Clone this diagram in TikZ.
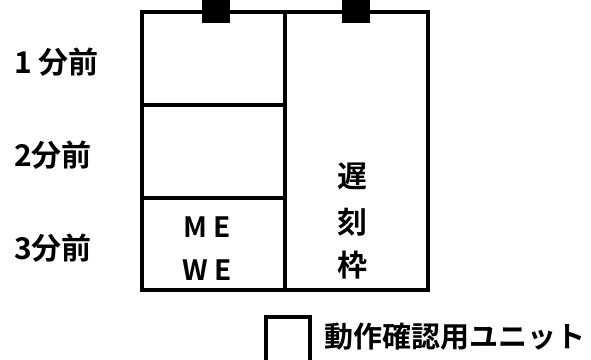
\documentclass[tikz,border=0pt]{standalone}
\usepackage{fontspec}
\setmainfont{Noto Sans CJK JP}[BoldFont={Noto Sans CJK JP Bold}]
\begin{document}
\begin{tikzpicture}[x=1pt,y=-1pt,
  frame/.style={draw=black,line width=3.2pt},
  clip/.style={fill=black},
  lbl/.style={font=\fontsize{30}{30}\selectfont\bfseries,inner sep=0pt},
  leglbl/.style={font=\fontsize{29}{29}\selectfont\bfseries,inner sep=0pt},
  inlbl/.style={font=\fontsize{28}{28}\selectfont\bfseries,inner sep=0pt}]
\useasboundingbox (0,0) rectangle (591,359);
% cells
\draw[frame] (142,12) rectangle (285,105);
\draw[frame] (142,105) rectangle (285,198);
\draw[frame] (142,198) rectangle (285,290);
\draw[frame] (285,12) rectangle (428,290);
% black tabs
\fill[clip] (202,0) rectangle (230,23);
\fill[clip] (342,0) rectangle (370,23);
% row labels
\node[lbl,anchor=west] (m1) at (14,62) {1 分前};
\node[lbl,anchor=west] (m2) at (14,155) {2分前};
\node[lbl,anchor=west] (m3) at (14,248) {3分前};
% inner labels
\node[inlbl] (me) at (207,227) {M E};
\node[inlbl] (we) at (207,270) {W E};
\node[lbl] (c1) at (352,176) {遅};
\node[lbl] (c2) at (352,222) {刻};
\node[lbl] (c3) at (352,265) {枠};
% legend
\draw[draw=black,line width=4pt] (265.5,362) -- (265.5,317) -- (309.5,317) -- (309.5,362);
\node[leglbl,anchor=west] (leg) at (324,337) {動作確認用ユニット};
\end{tikzpicture}
\end{document}
